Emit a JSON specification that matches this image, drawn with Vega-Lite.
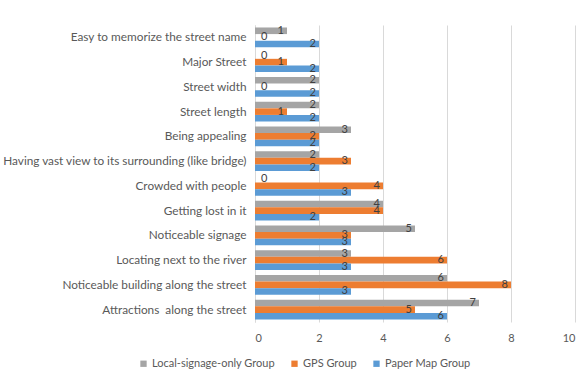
{
  "$schema": "https://vega.github.io/schema/vega-lite/v6.json",
  "width": 320,
  "height": 297,
  "autosize": {"type": "none"},
  "padding": {"left": 255, "top": 25, "right": 12, "bottom": 48},
  "background": "white",
  "config": {
    "font": "Lato",
    "view": {"stroke": null},
    "text": {"font": "Lato"}
  },
  "data": {
    "values": [
      {"feature": "Easy to memorize the street name", "group": "Local-signage-only Group", "value": 1},
      {"feature": "Easy to memorize the street name", "group": "GPS Group", "value": 0},
      {"feature": "Easy to memorize the street name", "group": "Paper Map Group", "value": 2},
      {"feature": "Major Street", "group": "Local-signage-only Group", "value": 0},
      {"feature": "Major Street", "group": "GPS Group", "value": 1},
      {"feature": "Major Street", "group": "Paper Map Group", "value": 2},
      {"feature": "Street width", "group": "Local-signage-only Group", "value": 2},
      {"feature": "Street width", "group": "GPS Group", "value": 0},
      {"feature": "Street width", "group": "Paper Map Group", "value": 2},
      {"feature": "Street length", "group": "Local-signage-only Group", "value": 2},
      {"feature": "Street length", "group": "GPS Group", "value": 1},
      {"feature": "Street length", "group": "Paper Map Group", "value": 2},
      {"feature": "Being appealing", "group": "Local-signage-only Group", "value": 3},
      {"feature": "Being appealing", "group": "GPS Group", "value": 2},
      {"feature": "Being appealing", "group": "Paper Map Group", "value": 2},
      {"feature": "Having vast view to its surrounding (like bridge)", "group": "Local-signage-only Group", "value": 2},
      {"feature": "Having vast view to its surrounding (like bridge)", "group": "GPS Group", "value": 3},
      {"feature": "Having vast view to its surrounding (like bridge)", "group": "Paper Map Group", "value": 2},
      {"feature": "Crowded with people", "group": "Local-signage-only Group", "value": 0},
      {"feature": "Crowded with people", "group": "GPS Group", "value": 4},
      {"feature": "Crowded with people", "group": "Paper Map Group", "value": 3},
      {"feature": "Getting lost in it", "group": "Local-signage-only Group", "value": 4},
      {"feature": "Getting lost in it", "group": "GPS Group", "value": 4},
      {"feature": "Getting lost in it", "group": "Paper Map Group", "value": 2},
      {"feature": "Noticeable signage", "group": "Local-signage-only Group", "value": 5},
      {"feature": "Noticeable signage", "group": "GPS Group", "value": 3},
      {"feature": "Noticeable signage", "group": "Paper Map Group", "value": 3},
      {"feature": "Locating next to the river", "group": "Local-signage-only Group", "value": 3},
      {"feature": "Locating next to the river", "group": "GPS Group", "value": 6},
      {"feature": "Locating next to the river", "group": "Paper Map Group", "value": 3},
      {"feature": "Noticeable building along the street", "group": "Local-signage-only Group", "value": 6},
      {"feature": "Noticeable building along the street", "group": "GPS Group", "value": 8},
      {"feature": "Noticeable building along the street", "group": "Paper Map Group", "value": 3},
      {"feature": "Attractions\u00a0 along the street", "group": "Local-signage-only Group", "value": 7},
      {"feature": "Attractions\u00a0 along the street", "group": "GPS Group", "value": 5},
      {"feature": "Attractions\u00a0 along the street", "group": "Paper Map Group", "value": 6}
    ]
  },
  "encoding": {
    "y": {
      "field": "feature",
      "type": "nominal",
      "sort": null,
      "scale": {"paddingInner": 0.2, "paddingOuter": 0.1},
      "axis": {
        "title": null,
        "ticks": false,
        "domain": true,
        "domainColor": "#D9D9D9",
        "labelColor": "#595959",
        "labelFontSize": 11.8,
        "labelPadding": 9,
        "labelLimit": 300
      }
    },
    "yOffset": {
      "field": "group",
      "sort": ["Local-signage-only Group", "GPS Group", "Paper Map Group"]
    },
    "x": {
      "field": "value",
      "type": "quantitative",
      "scale": {"domain": [0, 10]},
      "axis": {
        "title": null,
        "values": [0, 2, 4, 6, 8, 10],
        "grid": true,
        "gridColor": "#D9D9D9",
        "domain": false,
        "ticks": false,
        "labelColor": "#595959",
        "labelFontSize": 11,
        "labelPadding": 10
      }
    }
  },
  "layer": [
    {
      "mark": {"type": "bar"},
      "encoding": {
        "color": {
          "field": "group",
          "type": "nominal",
          "sort": ["Local-signage-only Group", "GPS Group", "Paper Map Group"],
          "scale": {
            "domain": ["Local-signage-only Group", "GPS Group", "Paper Map Group"],
            "range": ["#A5A5A5", "#ED7D31", "#5B9BD5"]
          },
          "legend": {
            "title": null,
            "orient": "none",
            "direction": "horizontal",
            "legendX": -117,
            "legendY": 333,
            "symbolType": "square",
            "symbolSize": 40,
            "symbolStrokeWidth": 0,
            "labelColor": "#595959",
            "labelFontSize": 11,
            "labelOffset": 3,
            "columnPadding": 14
          }
        }
      }
    },
    {
      "transform": [{"filter": "datum.value > 0"}],
      "mark": {"type": "text", "align": "right", "baseline": "middle", "dx": -3, "fontSize": 11, "color": "#404040"},
      "encoding": {"text": {"field": "value", "type": "quantitative"}}
    },
    {
      "transform": [{"filter": "datum.value == 0"}],
      "mark": {"type": "text", "align": "left", "baseline": "middle", "dx": 6, "fontSize": 11, "color": "#404040"},
      "encoding": {"text": {"field": "value", "type": "quantitative"}}
    }
  ]
}
